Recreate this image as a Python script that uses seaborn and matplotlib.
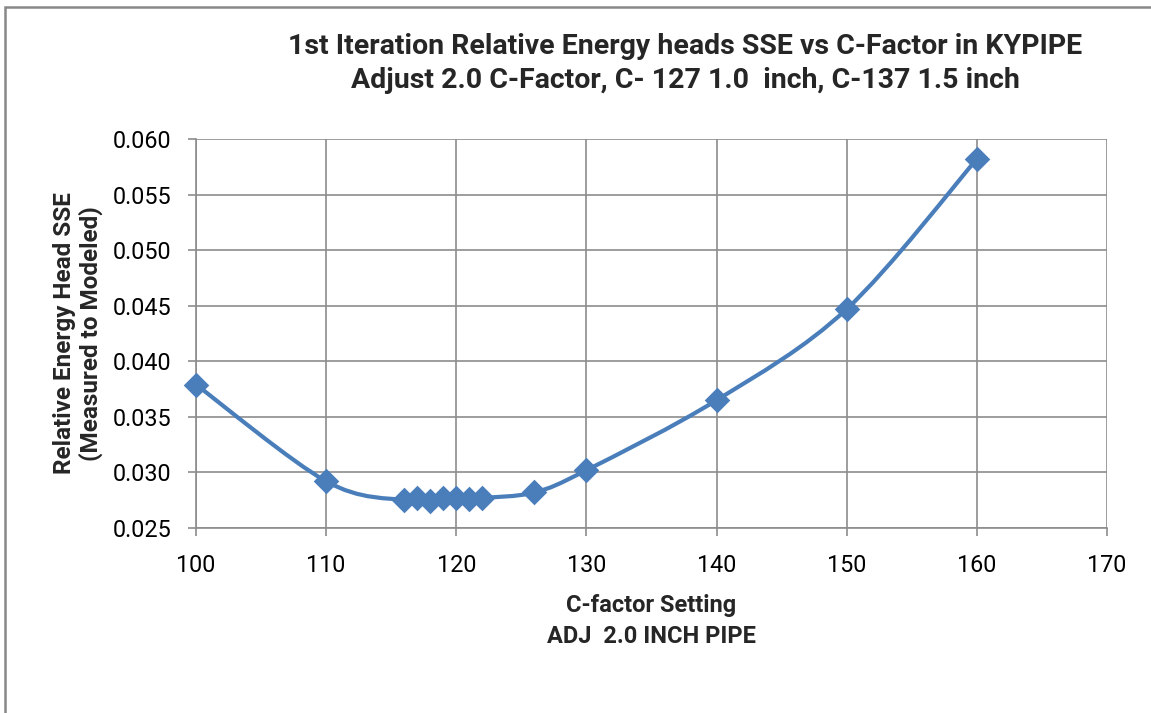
import matplotlib
matplotlib.use("Agg")
import matplotlib.pyplot as plt
from matplotlib.path import Path
from matplotlib.patches import PathPatch, Rectangle
import numpy as np
import pandas as pd
import seaborn as sns

# C-factor settings and the resulting relative energy head SSE
c_factor = [100, 110, 116, 117, 118, 119, 120, 121, 122, 126, 130, 140, 150, 160]
sse = [0.0379, 0.0292, 0.0275, 0.0277, 0.0274, 0.0277, 0.0277, 0.0276, 0.0277,
       0.0282, 0.0302, 0.0365, 0.0447, 0.0582]

x_ticks = [100, 110, 120, 130, 140, 150, 160, 170]
y_ticks = [0.025, 0.030, 0.035, 0.040, 0.045, 0.050, 0.055, 0.060]

title_lines = ["1st Iteration Relative Energy heads SSE vs C-Factor in KYPIPE",
               "Adjust 2.0 C-Factor, C- 127 1.0  inch, C-137 1.5 inch"]
x_label = "C-factor Setting\nADJ  2.0 INCH PIPE"
y_label = "Relative Energy Head SSE\n(Measured to Modeled)"

df = pd.DataFrame({"c": c_factor, "sse": sse})

sns.set_theme(style="white")
plt.rcParams["font.family"] = ["Roboto", "DejaVu Sans"]

LINE = "#4A7EBB"
GRID = "#8C8C8C"

fig = plt.figure(figsize=(11.51, 7.13), dpi=100)
ax = fig.add_axes([196 / 1151, 1 - 528 / 713, (1107 - 196) / 1151, (528 - 139) / 713])

# smooth curve through the data (Catmull-Rom style Bezier segments)
pts = df[["c", "sse"]].to_numpy(dtype=float)
ext = np.vstack([pts[0], pts, pts[-1]])
verts = [tuple(pts[0])]
codes = [Path.MOVETO]
for i in range(len(pts) - 1):
    p0, p1, p2, p3 = ext[i], ext[i + 1], ext[i + 2], ext[i + 3]
    c1 = p1 + (p2 - p0) / 6.0
    c2 = p2 - (p3 - p1) / 6.0
    verts += [tuple(c1), tuple(c2), tuple(p2)]
    codes += [Path.CURVE4] * 3
ax.add_patch(PathPatch(Path(verts, codes), facecolor="none", edgecolor=LINE,
                       lw=3.0, capstyle="round", joinstyle="round", zorder=3))

sns.scatterplot(data=df, x="c", y="sse", marker="D", s=170, color=LINE,
                edgecolor=LINE, linewidth=0, ax=ax, zorder=4, clip_on=False)

ax.set_xlim(100, 170)
ax.set_ylim(0.025, 0.060)
ax.set_xticks(x_ticks)
ax.set_yticks(y_ticks)
ax.set_xticklabels([str(v) for v in x_ticks])
ax.set_yticklabels([f"{v:.3f}" for v in y_ticks])
ax.grid(True, color=GRID, lw=1.2)
ax.set_axisbelow(True)
for side in ["top", "right"]:
    ax.spines[side].set_visible(False)
for side in ["left", "bottom"]:
    ax.spines[side].set_color(GRID)
    ax.spines[side].set_linewidth(1.2)
ax.tick_params(axis="both", which="major", direction="out", length=6, width=1.2,
               color=GRID, labelsize=16.8, labelcolor="black",
               left=True, bottom=True)
ax.tick_params(axis="y", pad=12)
ax.tick_params(axis="x", pad=13)

ax.set_xlabel(x_label, fontsize=17, fontweight="bold", labelpad=12, linespacing=1.45)
ax.set_ylabel(y_label, fontsize=17.5, fontweight="bold", labelpad=7, linespacing=1.12)

fig.text(685 / 1151, 1 - 46 / 713, title_lines[0], ha="center", va="center",
         fontsize=20.5, fontweight="bold")
fig.text(685 / 1151, 1 - 81 / 713, title_lines[1], ha="center", va="center",
         fontsize=20.5, fontweight="bold")

# chart-area border
fig.add_artist(Rectangle((5 / 1151, -0.05), 1.1, 1.05 - 7 / 713,
                         transform=fig.transFigure, fill=False,
                         edgecolor="#888888", lw=1.8, clip_on=False))

fig.savefig("out.png", dpi=100, facecolor="white")
